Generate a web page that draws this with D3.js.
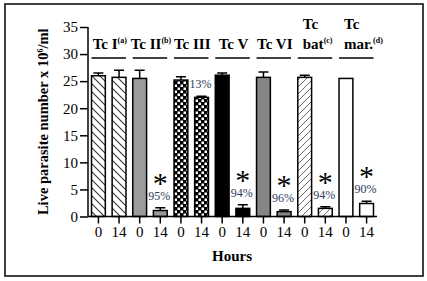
<!DOCTYPE html>
<html>
<head>
<meta charset="utf-8">
<script src="https://cdn.jsdelivr.net/npm/d3@7"></script>
<style>
    body { margin: 0; background: #fff; }
    svg text { font-family: "Liberation Serif", "Times New Roman", serif !important; }
</style>
</head>
<body>
<div id="chart"></div>
<script>
const container_id = 'chart';
const width = 427, height = 281;
const margin = { top: 27, bottom: 64, left: 88, right: 50 };
const serif = '"Liberation Serif", "Times New Roman", serif';

// data
const groups = ['Tc I', 'Tc II', 'Tc III', 'Tc V', 'Tc VI', 'Tc bat', 'Tc mar.'];
const groupSup = ['(a)', '(b)', '', '', '', '(c)', '(d)'];
const hours = ['0', '14'];
const means0 = [26.0, 25.5, 25.2, 26.1, 25.7, 25.7, 25.5];
const means14 = [25.7, 1.1, 22.0, 1.5, 0.9, 1.5, 2.4];
const err0 = [0.5, 1.5, 0.6, 0.4, 1.0, 0.4, 0];
const err14 = [1.3, 0.5, 0.2, 0.65, 0.3, 0.3, 0.4];
const reductions = ['', '95%', '13%', '94%', '96%', '94%', '90%'];
const significant = [false, true, false, true, true, true, true];
const yTicks = [0, 5, 10, 15, 20, 25, 30, 35];

const fills = ['url(#hatchBack)', '#9b9b9b', 'url(#checker)', '#000', '#858585', 'url(#hatchFwd)', '#fff'];

const bars = [];
groups.forEach((g, i) => {
    bars.push({ key: g + '-0', group: i, hour: hours[0], mean: means0[i], err: err0[i] });
    bars.push({ key: g + '-14', group: i, hour: hours[1], mean: means14[i], err: err14[i] });
});

const xScale = d3.scaleBand().domain(bars.map(d => d.key))
    .range([margin.left, width - margin.right]).paddingInner(0.33).paddingOuter(0.17);
const yScale = d3.scaleLinear().domain([0, 35]).range([height - margin.bottom - 0.5, margin.top]);

function drawDefs(svg) {
    const defs = svg.append('defs');
    const back = defs.append('pattern').attr('id', 'hatchBack')
        .attr('patternUnits', 'userSpaceOnUse').attr('width', 8).attr('height', 8);
    back.append('rect').attr('width', 8).attr('height', 8).attr('fill', '#fff');
    back.append('path').attr('d', 'M0,0 L8,8 M-2,6 L2,10 M6,-2 L10,2')
        .attr('stroke', '#333').attr('stroke-width', 1.1);

    const fwd = defs.append('pattern').attr('id', 'hatchFwd')
        .attr('patternUnits', 'userSpaceOnUse').attr('width', 7).attr('height', 7);
    fwd.append('rect').attr('width', 7).attr('height', 7).attr('fill', '#fff');
    fwd.append('path').attr('d', 'M0,7 L7,0 M-2,2 L2,-2 M5,9 L9,5')
        .attr('stroke', '#444').attr('stroke-width', 0.8);

    const chk = defs.append('pattern').attr('id', 'checker')
        .attr('patternUnits', 'userSpaceOnUse').attr('width', 6).attr('height', 6);
    chk.append('rect').attr('width', 6).attr('height', 6).attr('fill', '#000');
    chk.append('rect').attr('x', 0.5).attr('y', 0.5).attr('width', 2.5).attr('height', 2.5).attr('fill', '#fff');
    chk.append('rect').attr('x', 3.5).attr('y', 3.5).attr('width', 2.5).attr('height', 2.5).attr('fill', '#fff');
}

function drawYAxis(svg) {
    const g = svg.append('g')
        .attr('transform', 'translate(' + margin.left + ',0)')
        .call(d3.axisLeft(yScale).tickValues(yTicks).tickSize(8).tickPadding(2));
    g.attr('font-family', serif);
    g.selectAll('path, line').attr('stroke', '#000').attr('stroke-width', 1.5);
    g.select('.domain').attr('d', 'M0,' + yScale(0) + 'V' + yScale(35));
    g.selectAll('text').attr('font-size', 15);
}

function drawXAxis(svg) {
    const g = svg.append('g')
        .attr('transform', 'translate(0,' + yScale(0) + ')')
        .call(d3.axisBottom(xScale).tickFormat(k => k.split('-')[1]).tickSize(7).tickPadding(3));
    g.attr('font-family', serif);
    g.selectAll('path, line').attr('stroke', '#000').attr('stroke-width', 1.5);
    g.select('.domain').attr('d', 'M' + margin.left + ',0H' + (width - margin.right));
    g.selectAll('text').attr('font-size', 15);
}

function drawBars(svg) {
    const g = svg.append('g');
    const bw = xScale.bandwidth();

    // error bars
    g.selectAll('.err').data(bars.filter(d => d.err > 0)).enter().append('path')
        .attr('class', 'err')
        .attr('d', d => {
            const cx = xScale(d.key) + bw / 2;
            const top = yScale(d.mean + d.err);
            return 'M' + cx + ',' + yScale(d.mean) + 'V' + top + 'M' + (cx - 5) + ',' + top + 'H' + (cx + 5);
        })
        .attr('stroke', '#000').attr('stroke-width', 1.5).attr('fill', 'none');

    g.selectAll('.bar').data(bars).enter().append('rect')
        .attr('class', 'bar')
        .attr('x', d => xScale(d.key))
        .attr('y', d => yScale(d.mean))
        .attr('width', bw)
        .attr('height', d => yScale(0) - yScale(d.mean))
        .attr('fill', d => fills[d.group])
        .attr('stroke', '#000').attr('stroke-width', 1.5);
}

function drawGroupLabels(svg) {
    const bw = xScale.bandwidth();
    groups.forEach((name, i) => {
        const x0 = xScale(name + '-0');
        const x1 = xScale(name + '-14') + bw;
        svg.append('line')
            .attr('x1', x0).attr('x2', x1).attr('y1', 58).attr('y2', 58)
            .attr('stroke', '#000').attr('stroke-width', 1.3);
        const parts = name.split(' ');
        if (groupSup[i] && i >= 5) {
            svg.append('text').attr('x', x0 + 5).attr('y', 29)
                .attr('font-size', 15).attr('font-weight', 'bold').text(parts[0]);
            const t = svg.append('text').attr('x', x0 + 5).attr('y', 49)
                .attr('font-size', 15).attr('font-weight', 'bold');
            t.append('tspan').text(parts[1]);
            t.append('tspan').attr('font-size', 8).attr('dy', -6).text(groupSup[i]);
        } else {
            const t = svg.append('text').attr('x', (x0 + x1) / 2 + 1).attr('y', 49)
                .attr('text-anchor', 'middle')
                .attr('font-size', 15).attr('font-weight', 'bold');
            t.append('tspan').text(name);
            if (groupSup[i]) t.append('tspan').attr('font-size', 8).attr('dy', -6).text(groupSup[i]);
        }
    });
}

function drawAnnotations(svg) {
    const bw = xScale.bandwidth();
    groups.forEach((name, i) => {
        if (!reductions[i]) return;
        const cx = xScale(name + '-14') + bw / 2;
        const base = yScale(means14[i] + err14[i]) - 8;
        svg.append('text').attr('x', cx - 1).attr('y', base)
            .attr('text-anchor', 'middle').attr('font-size', 12).attr('fill', '#2e3b5c')
            .text(reductions[i]);
        if (significant[i]) {
            svg.append('text').attr('x', cx).attr('y', base - 7)
                .attr('text-anchor', 'middle').attr('font-size', 30)
                .text('*');
        }
    });
}

function drawChart() {
    const svg = d3.select('#' + container_id).append('svg')
        .attr('width', width).attr('height', height)
        .attr('font-family', serif);

    svg.append('rect').attr('width', width).attr('height', height).attr('fill', '#fff');
    svg.append('rect').attr('x', 5).attr('y', 4).attr('width', 418).attr('height', 272)
        .attr('fill', 'none').attr('stroke', '#000').attr('stroke-width', 1.5);

    drawDefs(svg);
    drawBars(svg);
    drawYAxis(svg);
    drawXAxis(svg);
    drawGroupLabels(svg);
    drawAnnotations(svg);

    svg.append('text')
        .attr('transform', 'translate(48,' + (yScale(17.5)) + ') rotate(-90)')
        .attr('text-anchor', 'middle').attr('font-size', 14.5).attr('font-weight', 'bold')
        .html('Live parasite number x 10<tspan dy="-5" font-size="8">6</tspan><tspan dy="5">/ml</tspan>');

    svg.append('text').attr('x', 232).attr('y', 261)
        .attr('text-anchor', 'middle').attr('font-size', 15).attr('font-weight', 'bold')
        .text('Hours');
}

drawChart();
</script>
</body>
</html>
